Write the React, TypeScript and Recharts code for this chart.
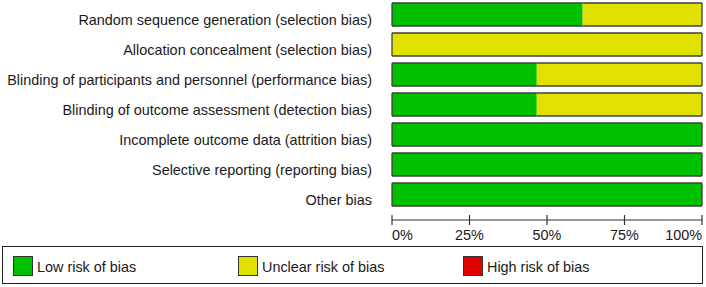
import React from "react";
import { BarChart, Bar, XAxis, YAxis } from "recharts";

const domains = [
  "Random sequence generation (selection bias)",
  "Allocation concealment (selection bias)",
  "Blinding of participants and personnel (performance bias)",
  "Blinding of outcome assessment (detection bias)",
  "Incomplete outcome data (attrition bias)",
  "Selective reporting (reporting bias)",
  "Other bias",
];

const lowRisk = [61.5, 0, 46.7, 46.7, 100, 100, 100];
const unclearRisk = [38.5, 100, 53.3, 53.3, 0, 0, 0];
const highRisk = [0, 0, 0, 0, 0, 0, 0];

const xTicks = [0, 25, 50, 75, 100];

const series = [
  { key: "low", name: "Low risk of bias", color: "#00c000" },
  { key: "unclear", name: "Unclear risk of bias", color: "#e1e100" },
  { key: "high", name: "High risk of bias", color: "#e00000" },
];

const data = domains.map((d, i) => ({
  name: d,
  low: lowRisk[i],
  unclear: unclearRisk[i],
  high: highRisk[i],
}));

const FONT = "'Liberation Sans', Arial, sans-serif";
const EDGE = "#404040";

// segment of a stacked bar: outline only on the outside of the whole bar
const makeShape = (idx: number) => (p: any) => {
  const { x, y, width, height, payload } = p;
  if (!width || width <= 0) return <g />;
  const keys = series.map((s) => s.key);
  const first = keys.slice(0, idx).every((k) => !payload[k]);
  const last = keys.slice(idx + 1).every((k) => !payload[k]);
  let d = `M${x},${y}H${x + width}M${x},${y + height}H${x + width}`;
  if (first) d += `M${x},${y}V${y + height}`;
  if (last) d += `M${x + width},${y}V${y + height}`;
  return (
    <g>
      <rect x={x} y={y} width={width} height={height} fill={series[idx].color} />
      <path d={d} stroke={EDGE} strokeWidth={1.3} fill="none" />
    </g>
  );
};

const DomainTick = (p: any) => (
  <text x={p.x - 20} y={p.y + 10.5} textAnchor="end" fontSize={14.4} fontFamily={FONT} fill="#1a1a1a">
    {p.payload.value}
  </text>
);

const PercentTick = (p: any) => {
  const last = xTicks.length - 1;
  const anchor = p.index === 0 ? "start" : p.index === last ? "end" : "middle";
  return (
    <g>
      <line x1={p.x} x2={p.x} y1={p.y - 5} y2={p.y + 5} stroke="#333" strokeWidth={1.2} />
      <text x={p.x} y={p.y + 20} textAnchor={anchor} fontSize={14.4} fontFamily={FONT} fill="#1a1a1a">
        {p.payload.value}%
      </text>
    </g>
  );
};

export default function App() {
  return (
    <div style={{ position: "absolute", left: 0, top: 0, width: 706, height: 287, background: "#fff" }}>
      <BarChart
        width={706}
        height={245}
        data={data}
        layout="vertical"
        margin={{ top: -1, right: 4, left: 0, bottom: 0 }}
      >
        <XAxis
          type="number"
          domain={[0, 100]}
          ticks={xTicks}
          interval={0}
          height={25}
          axisLine={{ stroke: "#333", strokeWidth: 1.2 }}
          tickLine={false}
          tickSize={0}
          tickMargin={0}
          tick={<PercentTick />}
        />
        <YAxis
          type="category"
          dataKey="name"
          width={392}
          axisLine={false}
          tickLine={false}
          tickSize={0}
          tickMargin={0}
          interval={0}
          padding={{ top: 0, bottom: 11 }}
          tick={<DomainTick />}
        />
        {series.map((s, i) => (
          <Bar
            key={s.key}
            dataKey={s.key}
            name={s.name}
            stackId="risk"
            fill={s.color}
            barSize={23}
            isAnimationActive={false}
            shape={makeShape(i)}
          />
        ))}
      </BarChart>
      <div
        style={{
          position: "absolute",
          left: 2,
          top: 246,
          width: 701,
          height: 38,
          boxSizing: "border-box",
          border: "1.5px solid #222",
          fontFamily: FONT,
          fontSize: 14.4,
          color: "#1a1a1a",
        }}
      >
        {series.map((s, i) => (
          <div
            key={s.key}
            style={{ position: "absolute", left: 10 + i * 225, top: 7.5, display: "flex", alignItems: "center" }}
          >
            <span
              style={{
                display: "inline-block",
                width: 20,
                height: 20,
                boxSizing: "border-box",
                background: s.color,
                border: "1px solid #333",
                marginRight: 4,
              }}
            />
            <span style={{ lineHeight: "20px", paddingTop: 2 }}>{s.name}</span>
          </div>
        ))}
      </div>
    </div>
  );
}
